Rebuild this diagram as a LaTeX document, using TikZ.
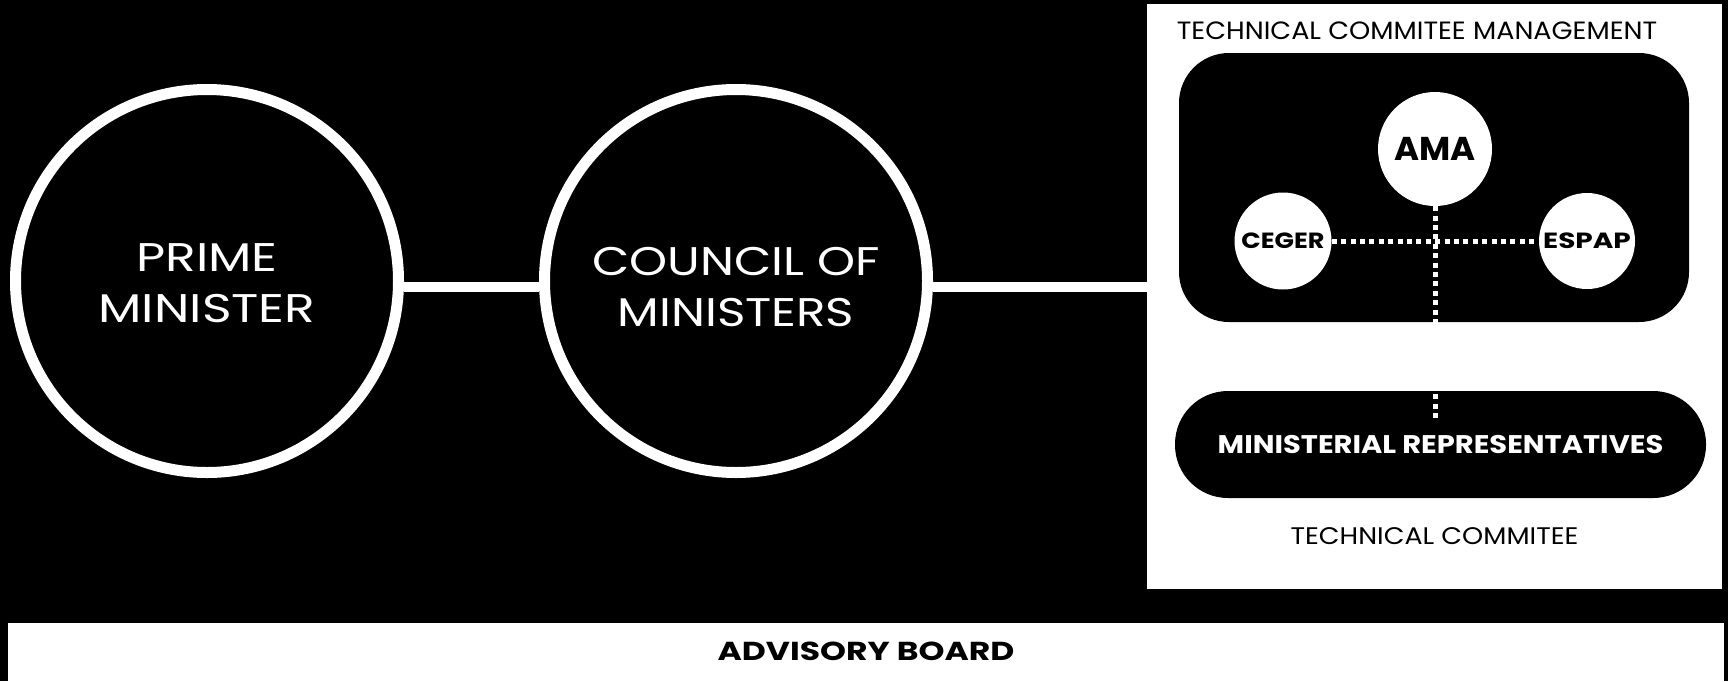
\documentclass[tikz,border=0pt]{standalone}
\usepackage{graphicx}
\usepackage{fontspec}
\setmainfont{Poppins}
\newcommand{\hstretch}[2]{\scalebox{#1}[1]{#2}}
\begin{document}
\begin{tikzpicture}[x=1pt,y=-1pt,
  bigcirc/.style={circle, draw=white, line width=11pt, fill=black, minimum size=383pt,
    inner sep=0pt},
  bigtext/.style={inner sep=0pt, text=white, align=center, font=\fontsize{40}{51}\selectfont},
  conn/.style={draw=white, line width=10pt},
  dotline/.style={draw=white, line width=5pt, dash pattern=on 5pt off 4.4pt},
  smallcirc/.style={circle, fill=white, inner sep=0pt, text=black},
  panelbox/.style={fill=white, inner sep=0pt, anchor=north west},
  darkbox/.style={fill=black, inner sep=0pt, text=white},
  lbl/.style={inner sep=0pt, text=black}
]
\useasboundingbox (0,0) rectangle (1728,681);
\fill[black] (0,0) rectangle (1728,681);

% main circles
\node[bigcirc, label={[bigtext, yshift=-5.5pt]center:{\hstretch{1.26}{\begin{tabular}{@{}c@{}}PRIME\\MINISTER\end{tabular}}}}]
  (pm) at (207,281) {};
\node[bigcirc, label={[bigtext, yshift=-10pt]center:{\hstretch{1.21}{\begin{tabular}{@{}c@{}}COUNCIL OF\\MINISTERS\end{tabular}}}}]
  (cm) at (736,281) {};

% technical committee panel
\node[panelbox, minimum width=575pt, minimum height=585pt] (panel) at (1147,4) {};
\node[lbl, font=\fontsize{25}{30}\selectfont] (tcm) at (1417,31)
  {\hstretch{1.08}{TECHNICAL COMMITEE MANAGEMENT}};
\node[darkbox, rounded corners=50pt, minimum width=510pt, minimum height=269pt] (mgmt) at (1434,187.5) {};
\node[darkbox, rounded corners=53pt, minimum width=531pt, minimum height=107pt,
  font=\bfseries\fontsize{25.5}{30}\selectfont] (mr) at (1440.5,444.5)
  {\hstretch{1.135}{MINISTERIAL REPRESENTATIVES}};
\node[lbl, font=\fontsize{24}{30}\selectfont] (tc) at (1434.5,536)
  {\hstretch{1.12}{TECHNICAL COMMITEE}};

% connectors
\coordinate (pmR) at ([yshift=-6pt]pm.east);
\coordinate (cmL) at ([yshift=-6pt]cm.west);
\coordinate (cmR) at ([yshift=-6pt]cm.east);
\draw[conn] (pmR) -- (cmL);
\draw[conn] (cmR) -- (cmR -| panel.west);

% management circles
\node[smallcirc, minimum size=114pt, font=\bfseries\fontsize{33}{36}\selectfont] (ama) at (1435,149)
  {\hstretch{1.03}{AMA}};
\node[smallcirc, minimum size=97pt, font=\bfseries\fontsize{22}{24}\selectfont] (ceger) at (1283,241)
  {\hstretch{1.16}{CEGER}};
\node[smallcirc, minimum size=96pt, font=\bfseries\fontsize{22}{24}\selectfont] (espap) at (1587,241)
  {\hstretch{1.27}{ESPAP}};
\coordinate (mrTop) at (1435,418);
\draw[dotline] (ceger) -- (espap);
\draw[dotline] (ama.south) -- (mrTop);

% advisory board
\node[panelbox, minimum width=1716pt, minimum height=58pt] (adv) at (8,623) {};
\node[lbl, font=\bfseries\fontsize{26}{30}\selectfont] (advt) at (866,651)
  {\hstretch{1.27}{ADVISORY BOARD}};
\end{tikzpicture}
\end{document}
